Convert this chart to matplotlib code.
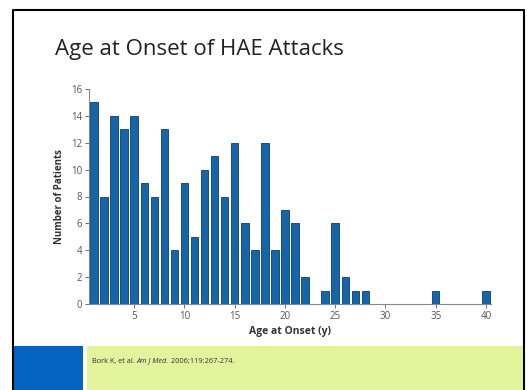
import matplotlib
matplotlib.use("Agg")
import matplotlib.pyplot as plt
from matplotlib.patches import Rectangle
from matplotlib.lines import Line2D

# data
ages = list(range(1, 41))
patients = [15, 8, 14, 13, 14, 9, 8, 13, 4, 9,
            5, 10, 11, 8, 12, 6, 4, 12, 4, 7,
            6, 2, 0, 1, 6, 2, 1, 1, 0, 0,
            0, 0, 0, 0, 1, 0, 0, 0, 0, 1]
xticks = [5, 10, 15, 20, 25, 30, 35, 40]
yticks = list(range(0, 17, 2))

W, H = 529, 390
fig = plt.figure(figsize=(W / 100, H / 100), dpi=100)
fig.patch.set_facecolor("white")
plt.rcParams['font.family'] = ['Open Sans', 'DejaVu Sans']

def px(x0, y0, x1, y1):
    # pixel box (top-left origin) -> figure fraction
    return [x0 / W, 1 - y1 / H, (x1 - x0) / W, (y1 - y0) / H]

# slide frame (open at the bottom)
frame = [(13, 390), (13, 10), (524, 10), (524, 390)]
fig.add_artist(Line2D([p[0] / W for p in frame], [1 - p[1] / H for p in frame],
                      color="black", lw=1.5, transform=fig.transFigure))

# footer bands
fig.add_artist(Rectangle((14 / W, 0), (83 - 14) / W, (390 - 346) / H,
                         facecolor="#0563C1", edgecolor="none", transform=fig.transFigure))
fig.add_artist(Rectangle((87 / W, 0), (523 - 87) / W, (390 - 346) / H,
                         facecolor="#E3F39C", edgecolor="none", transform=fig.transFigure))

# title
fig.text(55 / W, 1 - 49 / H, "Age at Onset of HAE Attacks", fontsize=16,
         color="#222222", va="center", ha="left")

ax = fig.add_axes(px(89, 89, 491, 304))
ax.bar(ages, patients, width=0.75, color="#1565A8", edgecolor="#0C3F6B", linewidth=0.6)
ax.set_xlim(0.5, 40.5)
ax.set_ylim(0, 16)
ax.set_xticks(xticks)
ax.set_yticks(yticks)
for s in ["top", "right"]:
    ax.spines[s].set_visible(False)
for s in ["left", "bottom"]:
    ax.spines[s].set_color("#888888")
    ax.spines[s].set_linewidth(0.8)
ax.tick_params(axis="both", labelsize=7, colors="#555555", length=3, width=0.6, pad=2)
ax.set_xlabel("Age at Onset (y)", fontsize=7.5, fontweight="bold", color="#333333", labelpad=3)
ax.set_ylabel("Number of Patients", fontsize=7, fontweight="bold", color="#333333", labelpad=4)

# citation, pieces placed one after the other
renderer = fig.canvas.get_renderer()
x = 92 / W
y = 1 - 361 / H
for piece, style in [("Bork K, et al. ", "normal"), ("Am J Med.", "italic"),
                     (" 2006;119:267-274.", "normal")]:
    t = fig.text(x, y, piece, fontsize=5.3, style=style, color="#333333", va="center")
    bb = t.get_window_extent(renderer)
    x += bb.width / W

fig.savefig("out.png", dpi=100)
